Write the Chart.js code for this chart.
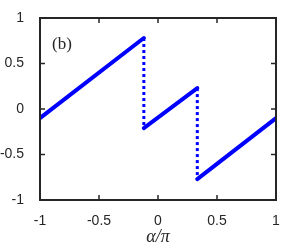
<!DOCTYPE html>
<html>
<head>
<meta charset="utf-8">
<script src="https://cdn.jsdelivr.net/npm/chart.js@4"></script>
<style>
  html, body { margin: 0; padding: 0; background: #fff; }
  #wrap { width: 305px; height: 249px; }
</style>
</head>
<body>
<div id="wrap"><canvas id="myChart" width="305" height="249"></canvas></div>
<script>
// data
const seg1X = [-1, -0.12];
const seg1Y = [-0.1, 0.78];
const seg2X = [-0.12, 0.333];
const seg2Y = [-0.21, 0.23];
const seg3X = [0.333, 1];
const seg3Y = [-0.77, -0.1];
const jump1X = [-0.12, -0.12];
const jump1Y = [0.78, -0.21];
const jump2X = [0.333, 0.333];
const jump2Y = [0.23, -0.77];
const xTicks = [-1, -0.5, 0, 0.5, 1];
const yTicks = [-1, -0.5, 0, 0.5, 1];

const toPts = (xs, ys) => xs.map((x, i) => ({ x: x, y: ys[i] }));

const solid = (xs, ys) => ({
  data: toPts(xs, ys),
  showLine: true,
  borderColor: "#0000ff",
  borderWidth: 4,
  borderCapStyle: "round",
  pointRadius: 0,
  fill: false
});
const dotted = (xs, ys) => ({
  data: toPts(xs, ys),
  showLine: true,
  borderColor: "#0000ff",
  borderWidth: 3,
  borderDash: [3, 3],
  pointRadius: 0,
  fill: false
});

// box + inward ticks + panel label
const boxPlugin = {
  id: "box",
  afterDraw(chart) {
    const ctx = chart.ctx;
    const a = chart.chartArea;
    const xs = chart.scales.x, ys = chart.scales.y;
    ctx.save();
    ctx.strokeStyle = "#262626";
    ctx.lineWidth = 2;
    ctx.strokeRect(a.left, a.top, a.right - a.left, a.bottom - a.top);
    ctx.lineWidth = 1.5;
    ctx.beginPath();
    xTicks.forEach(v => {
      const p = xs.getPixelForValue(v);
      ctx.moveTo(p, a.bottom); ctx.lineTo(p, a.bottom - 5);
      ctx.moveTo(p, a.top); ctx.lineTo(p, a.top + 5);
    });
    yTicks.forEach(v => {
      const p = ys.getPixelForValue(v);
      ctx.moveTo(a.left, p); ctx.lineTo(a.left + 5, p);
      ctx.moveTo(a.right, p); ctx.lineTo(a.right - 5, p);
    });
    ctx.stroke();
    ctx.fillStyle = "#262626";
    ctx.font = "17px 'Liberation Serif', serif";
    ctx.textBaseline = "middle";
    ctx.fillText("(b)", a.left + 12, a.top + 27);
    ctx.restore();
  }
};

const tickFont = { family: "'Liberation Sans', Arial, sans-serif", size: 14 };

const config = {
  type: "scatter",
  data: {
    datasets: [
      solid(seg1X, seg1Y),
      solid(seg2X, seg2Y),
      solid(seg3X, seg3Y),
      dotted(jump1X, jump1Y),
      dotted(jump2X, jump2Y)
    ]
  },
  options: {
    responsive: false,
    animation: false,
    layout: { padding: { left: 0, right: 29, top: 18, bottom: 0 } },
    plugins: { legend: { display: false }, tooltip: { enabled: false } },
    scales: {
      x: {
        type: "linear",
        min: -1, max: 1,
        afterBuildTicks: s => { s.ticks = xTicks.map(v => ({ value: v })); },
        afterFit: s => { s.height = 49; },
        grid: { display: false },
        border: { display: false },
        ticks: {
          color: "#262626",
          font: tickFont,
          padding: 5,
          maxRotation: 0,
          callback: v => String(v)
        },
        title: {
          display: true,
          text: "α/π",
          color: "#262626",
          font: { family: "'Liberation Serif', serif", size: 18, style: "italic" },
          padding: { top: 0, bottom: 1 }
        }
      },
      y: {
        type: "linear",
        min: -1, max: 1,
        afterBuildTicks: s => { s.ticks = yTicks.map(v => ({ value: v })); },
        afterFit: s => { s.width = 40; },
        grid: { display: false },
        border: { display: false },
        ticks: {
          color: "#262626",
          font: tickFont,
          padding: 8,
          callback: v => String(v)
        }
      }
    }
  },
  plugins: [boxPlugin]
};

const myChart = new Chart(document.getElementById("myChart"), config);
</script>
</body>
</html>
